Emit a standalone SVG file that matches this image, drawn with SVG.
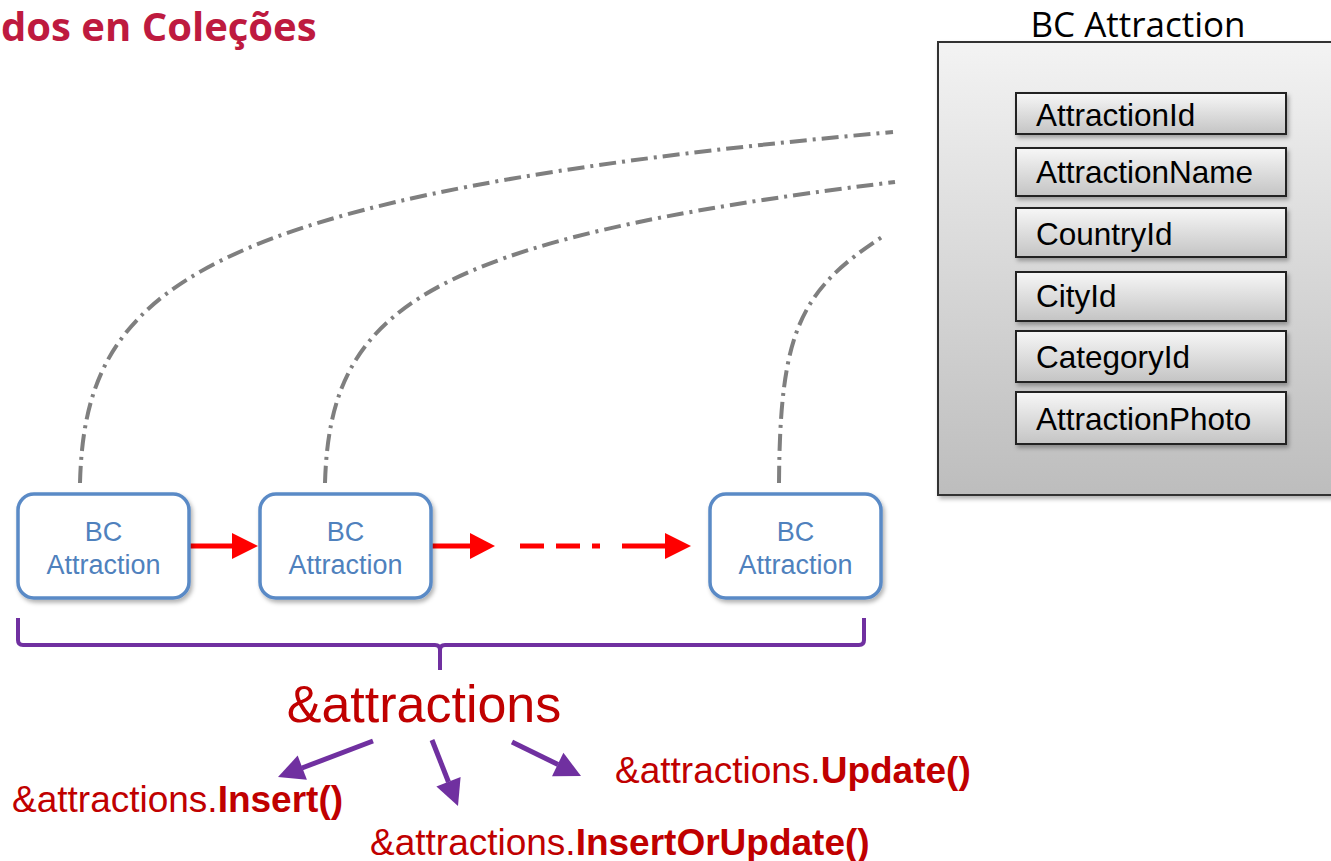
<svg xmlns="http://www.w3.org/2000/svg" width="1331" height="861" viewBox="0 0 1331 861">
<defs>
<style>
.bcbox{fill:#ffffff;stroke:#5a8ac6;stroke-width:3.5}
.bctext{font-family:"Liberation Sans",Arial,sans-serif;font-size:27px;fill:#4f81bd;text-anchor:middle}
.field{fill:url(#gField);stroke:#222;stroke-width:2}
.ftext{font-family:"Liberation Sans",Arial,sans-serif;font-size:31.5px;fill:#000}
.link{fill:none;stroke:#7f7f7f;stroke-width:4;stroke-dasharray:17 6 3 6}
.red{stroke:#ff0000;stroke-width:5;fill:none}
.redhead{fill:#ff0000}
.pur{stroke:#7030a0;stroke-width:5;fill:none}
.purhead{fill:#7030a0}
.method{font-family:"Liberation Sans",Arial,sans-serif;font-size:37px;fill:#c00000}
.b{font-weight:bold}
</style>
<linearGradient id="gPanel" x1="0" y1="0" x2="0" y2="1">
<stop offset="0" stop-color="#f3f3f3"/>
<stop offset="1" stop-color="#bdbdbd"/>
</linearGradient>
<linearGradient id="gField" x1="0" y1="0" x2="0" y2="1">
<stop offset="0" stop-color="#f7f7f7"/>
<stop offset="1" stop-color="#c4c4c4"/>
</linearGradient>
<filter id="sh" x="-10%" y="-10%" width="130%" height="130%">
<feDropShadow dx="2" dy="3" stdDeviation="2" flood-color="#000" flood-opacity="0.3"/>
</filter>
</defs>

<text x="1" y="41" font-family="'Open Sans','Noto Sans',sans-serif" font-weight="bold" font-size="40" fill="#be1a3f">dos en Coleções</text>

<g id="bc-panel">
<text x="1138" y="37" font-family="'Open Sans','Noto Sans',sans-serif" font-size="35" fill="#000" text-anchor="middle">BC Attraction</text>
<rect x="938" y="42" width="400" height="453" fill="url(#gPanel)" stroke="#333" stroke-width="2" filter="url(#sh)"/>
<g id="f-attractionid"><rect class="field" x="1016" y="93" width="270" height="41" filter="url(#sh)"/><text class="ftext" x="1036" y="126">AttractionId</text></g>
<g id="f-attractionname"><rect class="field" x="1016" y="148" width="270" height="48" filter="url(#sh)"/><text class="ftext" x="1036" y="183">AttractionName</text></g>
<g id="f-countryid"><rect class="field" x="1016" y="208" width="270" height="49" filter="url(#sh)"/><text class="ftext" x="1036" y="245">CountryId</text></g>
<g id="f-cityid"><rect class="field" x="1016" y="272" width="270" height="49" filter="url(#sh)"/><text class="ftext" x="1036" y="307">CityId</text></g>
<g id="f-categoryid"><rect class="field" x="1016" y="331" width="270" height="51" filter="url(#sh)"/><text class="ftext" x="1036" y="368">CategoryId</text></g>
<g id="f-attractionphoto"><rect class="field" x="1016" y="392" width="270" height="52" filter="url(#sh)"/><text class="ftext" x="1036" y="430">AttractionPhoto</text></g>
</g>

<g id="connectors">
<path class="link" d="M80,483 C85,290 190,195 893,132"/>
<path class="link" d="M325,483 C330,310 420,240 895,182"/>
<path class="link" d="M779,483 C780,330 800,290 885,235"/>

<line class="red" x1="190" y1="546" x2="234" y2="546"/>
<polygon class="redhead" points="232,533 258,546 232,559"/>
<line class="red" x1="428" y1="546" x2="472" y2="546"/>
<polygon class="redhead" points="470,533 495,546 470,559"/>
<line class="red" x1="520" y1="546" x2="544" y2="546"/>
<line class="red" x1="556" y1="546" x2="580" y2="546"/>
<line class="red" x1="592" y1="546" x2="600" y2="546"/>
<line class="red" x1="622" y1="546" x2="667" y2="546"/>
<polygon class="redhead" points="665,533 691,546 665,559"/>

<path d="M18,618 L18,640 Q18,645 23,645 L435,645 Q440,645 440,650 L440,670 M440,650 Q440,645 445,645 L859,645 Q864,645 864,640 L864,618" fill="none" stroke="#7030a0" stroke-width="4"/>

<line class="pur" x1="373" y1="741" x2="302" y2="768"/>
<polygon class="purhead" points="278,777 306.9,779.8 297.7,755.6"/>
<line class="pur" x1="432" y1="740" x2="448.5" y2="782"/>
<polygon class="purhead" points="458,806 460.6,777 436.4,786.6"/>
<line class="pur" x1="512" y1="742" x2="558" y2="764.5"/>
<polygon class="purhead" points="581,776 552,776.2 563.4,752.8"/>
</g>

<g id="bc1"><rect class="bcbox" x="18" y="494" width="171" height="104" rx="16" filter="url(#sh)"/><text class="bctext" x="103.5" y="541">BC</text><text class="bctext" x="103.5" y="574">Attraction</text></g>
<g id="bc2"><rect class="bcbox" x="260" y="494" width="171" height="104" rx="16" filter="url(#sh)"/><text class="bctext" x="345.5" y="541">BC</text><text class="bctext" x="345.5" y="574">Attraction</text></g>
<g id="bc3"><rect class="bcbox" x="710" y="494" width="171" height="104" rx="16" filter="url(#sh)"/><text class="bctext" x="795.5" y="541">BC</text><text class="bctext" x="795.5" y="574">Attraction</text></g>

<g id="attractions"><text x="424" y="722" font-family="'Liberation Sans',Arial,sans-serif" font-size="52" fill="#c00000" text-anchor="middle">&amp;attractions</text></g>
<g id="m-insert"><text class="method" x="12" y="812">&amp;attractions.<tspan class="b">Insert()</tspan></text></g>
<g id="m-update"><text class="method" x="615" y="783">&amp;attractions.<tspan class="b">Update()</tspan></text></g>
<g id="m-insertorupdate"><text class="method" x="370" y="855">&amp;attractions.<tspan class="b">InsertOrUpdate()</tspan></text></g>
</svg>
